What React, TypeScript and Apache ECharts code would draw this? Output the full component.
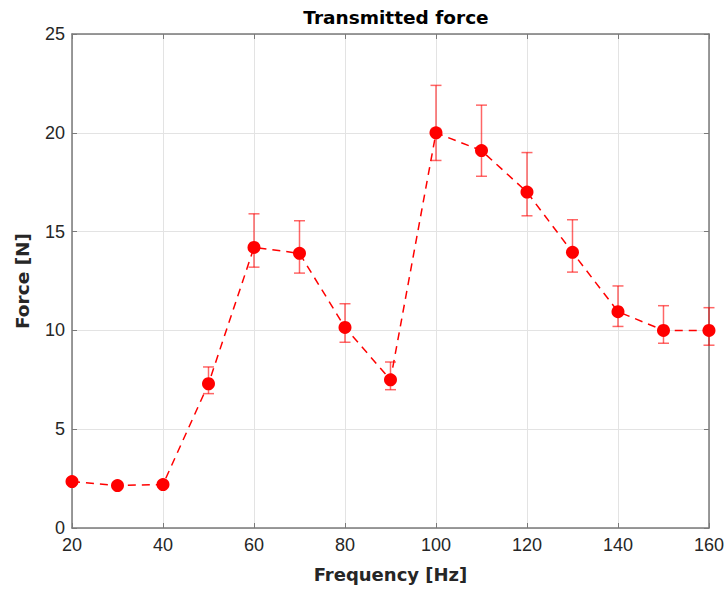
import React, { useEffect, useRef } from "react";
import * as echarts from "echarts";

const frequencies = [20, 30, 40, 50, 60, 70, 80, 90, 100, 110, 120, 130, 140, 150, 160];
const forces = [2.35, 2.15, 2.2, 7.3, 14.2, 13.9, 10.15, 7.5, 20.0, 19.1, 17.0, 13.95, 10.95, 10.0, 10.0];
const upper = [2.45, 2.25, 2.3, 8.15, 15.9, 15.55, 11.35, 8.4, 22.4, 21.4, 19.0, 15.6, 12.25, 11.25, 11.15];
const lower = [2.25, 2.05, 2.1, 6.8, 13.2, 12.9, 9.4, 7.0, 18.6, 17.8, 15.8, 12.95, 10.2, 9.35, 9.25];
const xTicks = [20, 40, 60, 80, 100, 120, 140, 160];
const yTicks = [0, 5, 10, 15, 20, 25];

const FONT = "'Liberation Sans', Arial, Helvetica, sans-serif";
const BOLD_FONT = "'DejaVu Sans', 'Liberation Sans', sans-serif";
const AXIS_COLOR = "#7a7a7a";
const TEXT_COLOR = "#262626";

export default function App() {
  const ref = useRef<HTMLDivElement>(null);
  useEffect(() => {
    if (!ref.current) return;
    const chart = echarts.init(ref.current, undefined, { renderer: "svg" });
    const errData = frequencies.map((f, i) => [f, lower[i], upper[i]]);
    const lineData = frequencies.map((f, i) => [f, forces[i]]);
    const xMin = xTicks[0];
    const xMax = xTicks[xTicks.length - 1];
    const yMin = yTicks[0];
    const yMax = yTicks[yTicks.length - 1];
    chart.setOption({
      animation: false,
      backgroundColor: "#ffffff",
      title: {
        text: "Transmitted force",
        left: 391,
        textAlign: "center",
        top: 3,
        textStyle: { fontFamily: BOLD_FONT, fontSize: 18.5, fontWeight: "bold", color: "#000" },
      },
      grid: { left: 72, right: 18, top: 34, bottom: 64 },
      xAxis: [
        {
          type: "value",
          min: xMin,
          max: xMax,
          interval: 20,
          name: "Frequency [Hz]",
          nameLocation: "middle",
          nameGap: 37,
          nameTextStyle: { fontFamily: BOLD_FONT, fontSize: 18, fontWeight: "bold", color: TEXT_COLOR },
          axisLine: { show: true, onZero: false, lineStyle: { color: AXIS_COLOR, width: 1.5 } },
          axisTick: { show: true, inside: true, length: 5, lineStyle: { color: AXIS_COLOR } },
          axisLabel: { fontFamily: FONT, fontSize: 18, color: TEXT_COLOR, margin: 8 },
          splitLine: { show: true, lineStyle: { color: "#e3e3e3", width: 1 } },
        },
        {
          type: "value",
          position: "top",
          min: xMin,
          max: xMax,
          interval: 20,
          axisLine: { show: true, onZero: false, lineStyle: { color: AXIS_COLOR, width: 1.5 } },
          axisTick: { show: true, inside: true, length: 5, lineStyle: { color: AXIS_COLOR } },
          axisLabel: { show: false },
          splitLine: { show: false },
        },
      ],
      yAxis: [
        {
          type: "value",
          min: yMin,
          max: yMax,
          interval: 5,
          name: "Force [N]",
          nameLocation: "middle",
          nameGap: 40,
          nameTextStyle: { fontFamily: BOLD_FONT, fontSize: 18.5, fontWeight: "bold", color: TEXT_COLOR },
          axisLine: { show: true, onZero: false, lineStyle: { color: AXIS_COLOR, width: 1.5 } },
          axisTick: { show: true, inside: true, length: 5, lineStyle: { color: AXIS_COLOR } },
          axisLabel: { fontFamily: FONT, fontSize: 18, color: TEXT_COLOR, margin: 7 },
          splitLine: { show: true, lineStyle: { color: "#e3e3e3", width: 1 } },
        },
        {
          type: "value",
          position: "right",
          min: yMin,
          max: yMax,
          interval: 5,
          axisLine: { show: true, onZero: false, lineStyle: { color: AXIS_COLOR, width: 1.5 } },
          axisTick: { show: true, inside: true, length: 5, lineStyle: { color: AXIS_COLOR } },
          axisLabel: { show: false },
          splitLine: { show: false },
        },
      ],
      series: [
        {
          type: "custom",
          xAxisIndex: 0,
          yAxisIndex: 0,
          data: errData,
          clip: false,
          z: 2,
          renderItem: (params: any, api: any) => {
            const x = api.value(0);
            const lo = api.coord([x, api.value(1)]);
            const hi = api.coord([x, api.value(2)]);
            const hw = 5.5;
            const style = { stroke: "rgba(255,0,0,0.6)", lineWidth: 1.5 };
            return {
              type: "group",
              children: [
                { type: "line", shape: { x1: lo[0], y1: lo[1], x2: hi[0], y2: hi[1] }, style },
                { type: "line", shape: { x1: hi[0] - hw, y1: hi[1], x2: hi[0] + hw, y2: hi[1] }, style },
                { type: "line", shape: { x1: lo[0] - hw, y1: lo[1], x2: lo[0] + hw, y2: lo[1] }, style },
              ],
            };
          },
        },
        {
          type: "line",
          xAxisIndex: 0,
          yAxisIndex: 0,
          data: lineData,
          symbol: "circle",
          symbolSize: 13,
          clip: false,
          z: 3,
          lineStyle: { color: "#ff0000", width: 1.5, type: [8, 6] },
          itemStyle: { color: "#ff0000" },
        },
      ],
    });
    return () => chart.dispose();
  }, []);
  return <div ref={ref} style={{ width: 727, height: 592, position: "absolute", left: 0, top: 0 }} />;
}
